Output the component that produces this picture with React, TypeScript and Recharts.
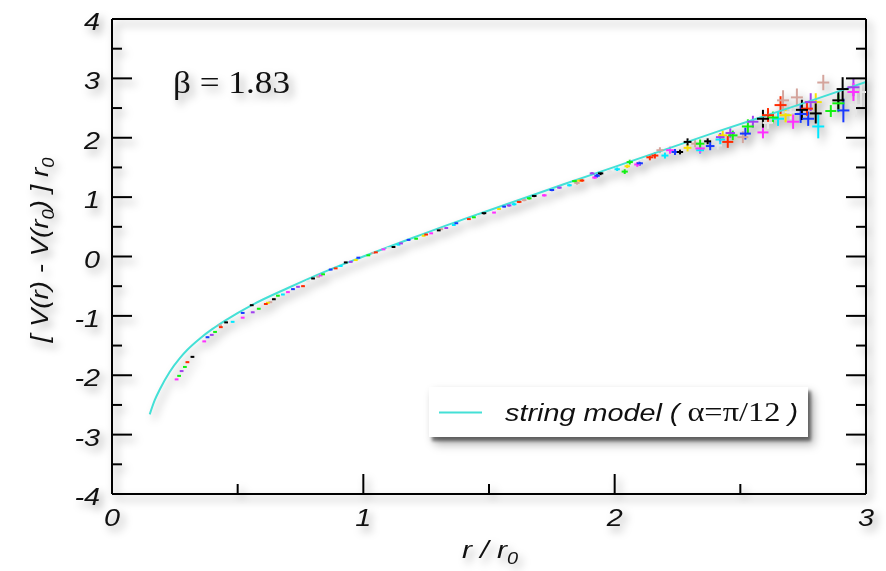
import React from 'react';
import { ComposedChart, Line, Scatter, ErrorBar, XAxis, YAxis, Legend, Label } from 'recharts';

// string model curve (r / r0, [V(r) - V(r0)] r0)
const curve = [
  { r: 0.15, v: -2.66 }, { r: 0.17, v: -2.42 }, { r: 0.19, v: -2.24 }, { r: 0.23, v: -1.94 },
  { r: 0.27, v: -1.71 }, { r: 0.3, v: -1.57 }, { r: 0.35, v: -1.38 }, { r: 0.4, v: -1.22 },
  { r: 0.45, v: -1.08 }, { r: 0.56, v: -0.81 }, { r: 0.7, v: -0.53 }, { r: 0.85, v: -0.25 },
  { r: 1.0, v: 0.0 }, { r: 1.2, v: 0.32 }, { r: 1.4, v: 0.63 }, { r: 1.55, v: 0.85 },
  { r: 1.8, v: 1.22 }, { r: 2.0, v: 1.51 }, { r: 2.2, v: 1.8 }, { r: 2.42, v: 2.12 },
  { r: 2.6, v: 2.37 }, { r: 2.8, v: 2.65 }, { r: 3.0, v: 2.94 },
];

// lattice data: [r, v, err]
const blackPts = [
  [0.32, -1.69, 0.01], [0.454, -1.11, 0.01], [0.556, -0.82, 0.01], [0.644, -0.72, 0.01], [0.8, -0.37, 0.01],
  [0.93, -0.1, 0.01], [1.12, 0.16, 0.01], [1.3, 0.44, 0.01], [1.48, 0.73, 0.02], [1.68, 1.02, 0.02],
  [1.944, 1.4, 0.03], [2.26, 1.76, 0.04], [2.29, 1.93, 0.06], [2.37, 1.94, 0.05], [2.59, 2.32, 0.15],
  [2.745, 2.47, 0.17], [2.8, 2.41, 0.17], [2.89, 2.63, 0.15], [2.907, 2.82, 0.2],
];
const redPts = [
  [0.3, -1.78, 0.01], [0.433, -1.19, 0.01], [0.612, -0.8, 0.01], [0.76, -0.5, 0.01], [0.89, -0.2, 0.01],
  [1.05, 0.07, 0.01], [1.25, 0.37, 0.01], [1.42, 0.63, 0.01], [1.62, 0.92, 0.02], [1.87, 1.28, 0.02],
  [2.14, 1.67, 0.05], [2.16, 1.7, 0.05], [2.45, 1.93, 0.1], [2.61, 2.38, 0.12], [2.66, 2.55, 0.15],
  [2.765, 2.49, 0.12],
];
const greenPts = [
  [0.267, -2.01, 0.01], [0.29, -1.86, 0.01], [0.41, -1.27, 0.01], [0.584, -0.88, 0.01], [0.66, -0.66, 0.01],
  [0.84, -0.3, 0.01], [1.02, 0.02, 0.01], [1.21, 0.3, 0.01], [1.44, 0.66, 0.01], [1.66, 0.98, 0.02],
  [1.84, 1.27, 0.02], [2.04, 1.43, 0.04], [2.06, 1.59, 0.04], [2.34, 1.9, 0.07], [2.47, 2.04, 0.08],
  [2.53, 2.19, 0.12], [2.63, 2.34, 0.1], [2.86, 2.45, 0.1], [2.89, 2.58, 0.15],
];
const bluePts = [
  [0.38, -1.36, 0.01], [0.52, -0.95, 0.01], [0.72, -0.55, 0.01], [0.87, -0.22, 0.01], [0.98, -0.02, 0.01],
  [1.18, 0.28, 0.01], [1.37, 0.56, 0.01], [1.56, 0.84, 0.01], [1.75, 1.12, 0.02], [1.93, 1.36, 0.03],
  [2.1, 1.57, 0.04], [2.24, 1.76, 0.05], [2.38, 1.86, 0.07], [2.52, 2.07, 0.1], [2.74, 2.4, 0.15],
  [2.77, 2.32, 0.12], [2.91, 2.46, 0.2],
];
const magentaPts = [
  [0.257, -2.07, 0.01], [0.367, -1.43, 0.01], [0.52, -1.03, 0.01], [0.7, -0.6, 0.01], [0.83, -0.32, 0.01],
  [1.08, 0.12, 0.01], [1.27, 0.39, 0.01], [1.52, 0.74, 0.01], [1.72, 1.03, 0.02], [1.92, 1.33, 0.02],
  [2.09, 1.55, 0.04], [2.22, 1.79, 0.06], [2.34, 1.82, 0.08], [2.59, 2.09, 0.1], [2.71, 2.27, 0.12],
  [2.95, 2.77, 0.15],
];
const purplePts = [
  [0.277, -1.93, 0.01], [0.397, -1.32, 0.01], [0.56, -0.94, 0.01], [0.74, -0.51, 0.01], [0.95, -0.09, 0.01],
  [1.15, 0.22, 0.01], [1.33, 0.48, 0.01], [1.58, 0.86, 0.02], [1.78, 1.16, 0.02], [1.91, 1.4, 0.02],
  [2.42, 2.01, 0.07], [2.46, 2.08, 0.08], [2.55, 2.27, 0.1], [2.78, 2.6, 0.15], [2.95, 2.85, 0.15],
];
const cyanPts = [
  [0.48, -1.1, 0.01], [0.68, -0.64, 0.01], [0.91, -0.16, 0.01], [1.14, 0.2, 0.01], [1.36, 0.53, 0.01],
  [1.6, 0.88, 0.02], [1.82, 1.2, 0.02], [2.01, 1.47, 0.03], [2.2, 1.7, 0.05], [2.34, 1.79, 0.06],
  [2.42, 1.97, 0.08], [2.65, 2.32, 0.12], [2.81, 2.19, 0.2],
];
const yellowPts = [
  [0.62, -0.78, 0.01], [0.97, -0.06, 0.01], [1.24, 0.35, 0.01], [1.54, 0.8, 0.01], [1.86, 1.28, 0.02],
  [2.05, 1.52, 0.03], [2.29, 1.83, 0.06], [2.43, 2.04, 0.08], [2.68, 2.38, 0.12], [2.8, 2.6, 0.15],
];
const brownPts = [
  [0.43, -1.16, 0.01], [0.63, -0.77, 0.01], [0.82, -0.34, 0.01], [1.04, 0.06, 0.01], [1.31, 0.46, 0.01],
  [1.64, 0.95, 0.02], [1.85, 1.24, 0.03], [2.18, 1.79, 0.05], [2.32, 1.9, 0.06], [2.51, 2.01, 0.1],
  [2.67, 2.63, 0.17], [2.725, 2.68, 0.15], [2.83, 2.93, 0.13],
];
const greyPts = [
  [0.6, -0.84, 0.01], [0.78, -0.42, 0.01], [1.1, 0.14, 0.01], [1.46, 0.68, 0.01], [1.76, 1.12, 0.02],
  [1.98, 1.43, 0.03], [2.11, 1.61, 0.04], [2.41, 1.87, 0.07], [2.61, 2.25, 0.1], [2.7, 2.43, 0.12],
  [2.96, 2.55, 0.2], [2.98, 2.77, 0.25],
];

const xTicks = [0, 0.5, 1, 1.5, 2, 2.5, 3];
const yTicks = [-4, -3.5, -3, -2.5, -2, -1.5, -1, -0.5, 0, 0.5, 1, 1.5, 2, 2.5, 3, 3.5, 4];

const series = [
  { name: 'grey', color: '#e6e6e6', pts: greyPts },
  { name: 'brown', color: '#d4a49c', pts: brownPts },
  { name: 'yellow', color: '#f5e000', pts: yellowPts },
  { name: 'cyan', color: '#00e8ff', pts: cyanPts },
  { name: 'purple', color: '#a040f0', pts: purplePts },
  { name: 'magenta', color: '#ff30ff', pts: magentaPts },
  { name: 'blue', color: '#1838ff', pts: bluePts },
  { name: 'green', color: '#10f010', pts: greenPts },
  { name: 'red', color: '#ff2a00', pts: redPts },
  { name: 'black', color: '#000000', pts: blackPts },
];

const LINE_COLOR = '#44e0d6';
const sans = '"Liberation Sans", Arial, sans-serif';
const serif = '"Liberation Serif", "Times New Roman", serif';

const tickText = (x: number, y: number, anchor: string, label: number) => (
  <text
    transform={`translate(${x},${y}) scale(1.2,1)`}
    textAnchor={anchor}
    fontFamily={sans}
    fontStyle="italic"
    fontSize={24}
    fill="#111"
  >
    {String(label)}
  </text>
);

const LeftTick = (props: any) => {
  const { x, y, payload } = props;
  const major = Number.isInteger(payload.value);
  return (
    <g>
      <line x1={x} y1={y} x2={x + (major ? 20 : 10)} y2={y} stroke="#000" strokeWidth={2} />
      {major && tickText(x - 12, y + 11, 'end', payload.value)}
    </g>
  );
};

const RightTick = (props: any) => {
  const { x, y, payload } = props;
  const major = Number.isInteger(payload.value);
  return <line x1={x} y1={y} x2={x - (major ? 20 : 10)} y2={y} stroke="#000" strokeWidth={2} />;
};

const BottomTick = (props: any) => {
  const { x, y, payload } = props;
  const major = Number.isInteger(payload.value);
  return (
    <g>
      <line x1={x} y1={y} x2={x} y2={y - (major ? 20 : 10)} stroke="#000" strokeWidth={2} />
      {major && tickText(x, y + 32, 'middle', payload.value)}
    </g>
  );
};

const TopTick = (props: any) => {
  const { x, y, payload } = props;
  const major = Number.isInteger(payload.value);
  return <line x1={x} y1={y} x2={x} y2={y + (major ? 20 : 10)} stroke="#000" strokeWidth={2} />;
};

const crossShape = (color: string) => (props: any) => {
  const { cx, cy, payload } = props;
  if (cx == null || cy == null) return <g />;
  const hw = Math.min(6, 1.5 + payload.e * 40);
  return <line x1={cx - hw} y1={cy} x2={cx + hw} y2={cy} stroke={color} strokeWidth={2} />;
};

const renderLegend = () => (
  <div style={{ width: 379, height: 50, background: '#fff', boxShadow: '3px 4px 3px rgba(0,0,0,0.45)' }}>
    <svg width={379} height={50}>
      <line x1={10} y1={25.5} x2={53} y2={25.5} stroke={LINE_COLOR} strokeWidth={2} />
      <text x={76} y={34} fontSize={24} fill="#111" textLength={293} lengthAdjust="spacingAndGlyphs">
        <tspan fontFamily={sans} fontStyle="italic">string model ( </tspan>
        <tspan fontFamily={serif} fontSize={27}>α=π/12</tspan>
        <tspan fontFamily={sans} fontStyle="italic"> )</tspan>
      </text>
    </svg>
  </div>
);

const YTitle = () => (
  <text
    transform="translate(48,250) rotate(-90)"
    textAnchor="middle"
    fontFamily={sans}
    fontStyle="italic"
    fontSize={24}
    fill="#111"
    textLength={185}
    lengthAdjust="spacingAndGlyphs"
  >
    [ V(r) - V(r<tspan fontSize={16} dy={6}>0</tspan><tspan dy={-6}>) ] r</tspan>
    <tspan fontSize={16} dy={6}>0</tspan>
  </text>
);

const XTitle = () => (
  <text
    x={462}
    y={558}
    fontFamily={sans}
    fontStyle="italic"
    fontSize={24}
    fill="#111"
    textLength={56}
    lengthAdjust="spacingAndGlyphs"
  >
    r / r<tspan fontSize={16} dy={6}>0</tspan>
  </text>
);

export default function App() {
  const rows = series.map((s) => ({
    ...s,
    data: s.pts.map(([r, v, e]) => ({ r, v, e })),
  }));

  return (
    <div
      style={{
        position: 'absolute',
        left: 0,
        top: 0,
        width: 886,
        height: 571,
        filter: 'drop-shadow(4px 5px 4px rgba(0,0,0,0.35))',
      }}
    >
      <ComposedChart width={886} height={571} margin={{ top: 18, right: 19, left: 62, bottom: 37 }}>
        <XAxis
          dataKey="r"
          type="number"
          domain={[0, 3]}
          ticks={xTicks}
          interval={0}
          height={40}
          tickSize={0}
          tickMargin={0}
          tickLine={false}
          axisLine={{ stroke: '#000', strokeWidth: 2 }}
          tick={BottomTick}
          allowDataOverflow
        >
          <Label content={XTitle} />
        </XAxis>
        <XAxis
          xAxisId="top"
          orientation="top"
          type="number"
          domain={[0, 3]}
          ticks={xTicks}
          interval={0}
          height={1}
          tickSize={0}
          tickMargin={0}
          tickLine={false}
          axisLine={{ stroke: '#000', strokeWidth: 2 }}
          tick={TopTick}
          allowDataOverflow
        />
        <YAxis
          type="number"
          domain={[-4, 4]}
          ticks={yTicks}
          interval={0}
          width={50}
          tickSize={0}
          tickMargin={0}
          tickLine={false}
          axisLine={{ stroke: '#000', strokeWidth: 2 }}
          tick={LeftTick}
          allowDataOverflow
        >
          <Label content={YTitle} />
        </YAxis>
        <YAxis
          yAxisId="right"
          orientation="right"
          type="number"
          domain={[-4, 4]}
          ticks={yTicks}
          interval={0}
          width={1}
          tickSize={0}
          tickMargin={0}
          tickLine={false}
          axisLine={{ stroke: '#000', strokeWidth: 2 }}
          tick={RightTick}
          allowDataOverflow
        />
        {rows.map((s) => (
          <Scatter
            key={s.name}
            name={s.name}
            data={s.data}
            dataKey="v"
            shape={crossShape(s.color)}
            legendType="none"
            isAnimationActive={false}
          >
            <ErrorBar dataKey="e" direction="y" width={0} stroke={s.color} strokeWidth={2} />
          </Scatter>
        ))}
        <Line
          data={curve}
          dataKey="v"
          type="monotone"
          stroke={LINE_COLOR}
          strokeWidth={2}
          dot={false}
          activeDot={false}
          isAnimationActive={false}
        />
        <text x={173} y={93} fontFamily={serif} fontSize={31} fill="#111" textLength={117} lengthAdjust="spacingAndGlyphs">
          β = 1.83
        </text>
        <Legend
          content={renderLegend}
          layout="horizontal"
          verticalAlign="middle"
          align="center"
          wrapperStyle={{ position: 'absolute', left: 429, top: 387, width: 379, height: 50 }}
        />
      </ComposedChart>
    </div>
  );
}
